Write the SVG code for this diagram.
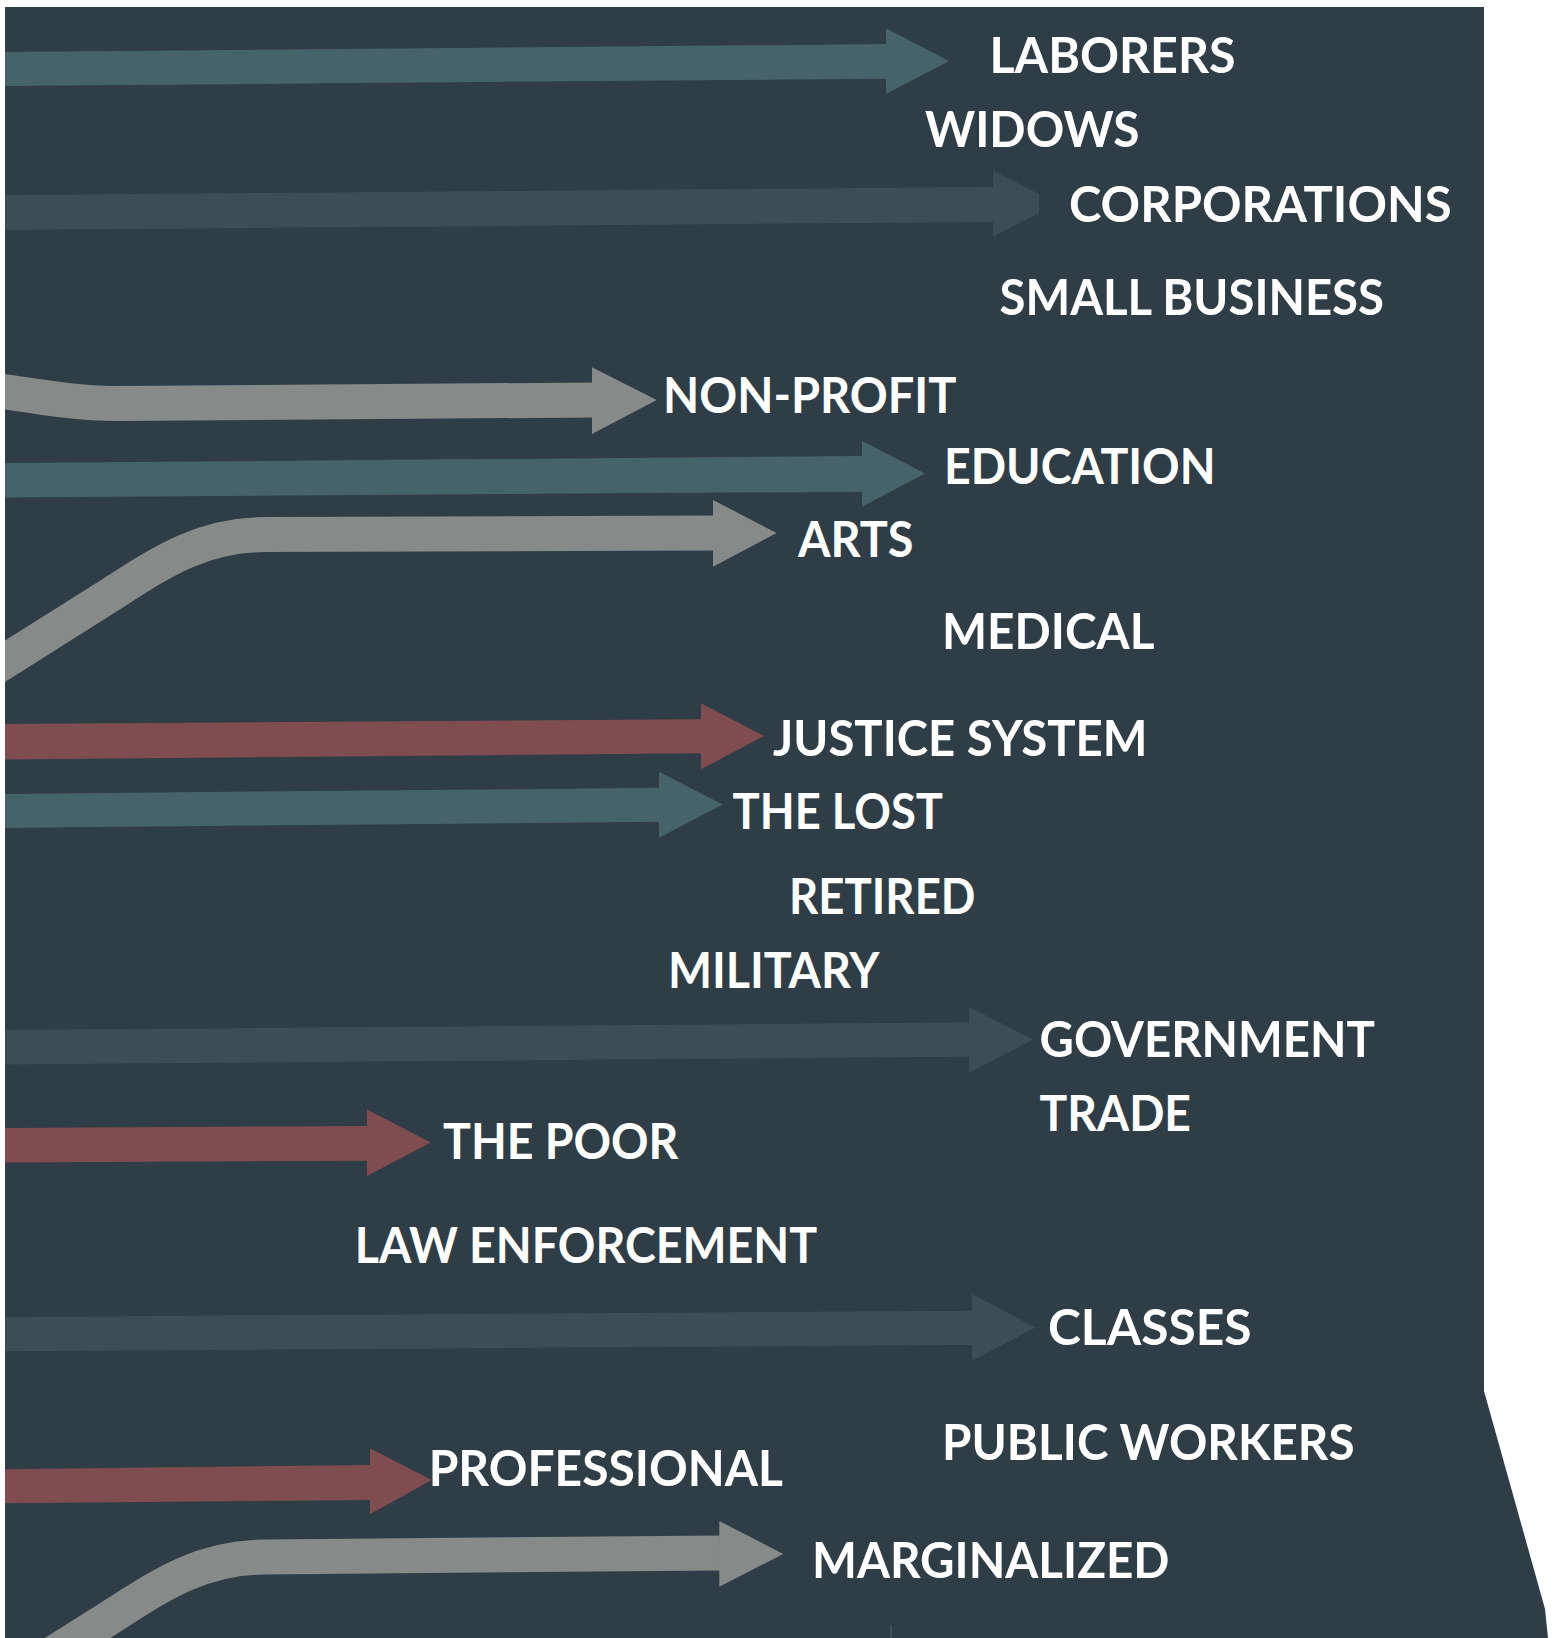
<svg xmlns="http://www.w3.org/2000/svg" width="1557" height="1638" viewBox="0 0 1557 1638">
<style>
.lbl{font-family:Lato,"Open Sans","Liberation Sans",sans-serif;font-weight:700;font-size:49px;fill:#ffffff}
.teal{fill:#47636a}
.slate{fill:#3c4d56}
.gray{fill:#868a88}
.red{fill:#7f4c4f}
.cgray{fill:none;stroke:#868a88;stroke-width:35}
</style>
<defs>
<clipPath id="bgclip"><path d="M5,7 H1484 V1391 L1545,1609 L1548,1638 H5 Z"/></clipPath>
</defs>
<rect x="0" y="0" width="1557" height="1638" fill="#ffffff"/>
<path id="background" d="M5,7 H1484 V1391 L1545,1609 L1548,1638 H5 Z" fill="#2e3d46"/>
<g id="connectors" clip-path="url(#bgclip)">
  <g id="arrow-laborers" class="teal">
    <polygon points="0,52 887,44 887,78.7 0,86"/>
    <polygon points="886,28.3 949,61 886,94"/>
  </g>
  <g id="arrow-corporations" class="slate">
    <polygon points="0,195 994,187 994,222 0,230"/>
    <polygon points="993,170.7 1039,194 1039,213 993,236.7"/>
  </g>
  <g id="arrow-nonprofit">
    <path class="cgray" d="M-10,389.5 C40,397 80,404 120,403.5 L593,400"/>
    <polygon class="gray" points="592,367.3 656.7,400 592,434"/>
  </g>
  <g id="arrow-education" class="teal">
    <polygon points="0,463 863,456 863,491.7 0,497.5"/>
    <polygon points="862,440.7 925,473.5 862,506.7"/>
  </g>
  <g id="arrow-arts">
    <path class="cgray" d="M-20,677 L110,595 C160,563 200,535 265,534.5 L714,533"/>
    <polygon class="gray" points="713,500 776.7,533 713,566.7"/>
  </g>
  <g id="arrow-justice" class="red">
    <polygon points="0,724 702,719.3 702,753.3 0,759.5"/>
    <polygon points="701,703.3 764,736 701,769.3"/>
  </g>
  <g id="arrow-lost" class="teal">
    <polygon points="0,794 660,787.7 660,821.7 0,828"/>
    <polygon points="659,771.7 722.7,804.5 659,837.7"/>
  </g>
  <g id="arrow-government" class="slate">
    <polygon points="0,1030 970,1022.3 970,1056.7 0,1064.5"/>
    <polygon points="969,1006.7 1033.3,1039.5 969,1072.7"/>
  </g>
  <g id="arrow-poor" class="red">
    <polygon points="0,1128 368,1126 368,1160.7 0,1162.5"/>
    <polygon points="367,1109.5 430.7,1142.5 367,1176"/>
  </g>
  <g id="arrow-classes" class="slate">
    <polygon points="0,1317 973,1310.7 973,1345 0,1351.3"/>
    <polygon points="972,1294 1035.7,1327.5 972,1360.7"/>
  </g>
  <g id="arrow-professional" class="red">
    <polygon points="0,1469.3 371,1465 371,1500 0,1503.3"/>
    <polygon points="370,1448.3 431.7,1480 370,1514.3"/>
  </g>
  <g id="arrow-marginalized">
    <path class="cgray" d="M-20,1699.5 L110,1617.5 C160,1585.5 200,1557.5 265,1557 L720,1553"/>
    <polygon class="gray" points="719.3,1521 783.3,1554 719.3,1586.7"/>
  </g>
  <line x1="891" y1="1625" x2="891" y2="1638" stroke="#56656c" stroke-width="1"/>
</g>
<g id="node-laborers"><text class="lbl" x="989.5" y="72.7" textLength="246" lengthAdjust="spacingAndGlyphs">LABORERS</text></g>
<g id="node-widows"><text class="lbl" x="925" y="146.8" textLength="214.5" lengthAdjust="spacingAndGlyphs">WIDOWS</text></g>
<g id="node-corporations"><text class="lbl" x="1069" y="222" textLength="382.5" lengthAdjust="spacingAndGlyphs">CORPORATIONS</text></g>
<g id="node-small-business"><text class="lbl" x="999.5" y="315" textLength="384.5" lengthAdjust="spacingAndGlyphs">SMALL BUSINESS</text></g>
<g id="node-non-profit"><text class="lbl" x="663" y="412.7" textLength="293.5" lengthAdjust="spacingAndGlyphs">NON-PROFIT</text></g>
<g id="node-education"><text class="lbl" x="944" y="484" textLength="271.5" lengthAdjust="spacingAndGlyphs">EDUCATION</text></g>
<g id="node-arts"><text class="lbl" x="798" y="556.7" textLength="115.5" lengthAdjust="spacingAndGlyphs">ARTS</text></g>
<g id="node-medical"><text class="lbl" x="942" y="649" textLength="212.5" lengthAdjust="spacingAndGlyphs">MEDICAL</text></g>
<g id="node-justice-system"><text class="lbl" x="773" y="755.5" textLength="374.5" lengthAdjust="spacingAndGlyphs">JUSTICE SYSTEM</text></g>
<g id="node-the-lost"><text class="lbl" x="732.5" y="829.3" textLength="210.5" lengthAdjust="spacingAndGlyphs">THE LOST</text></g>
<g id="node-retired"><text class="lbl" x="789" y="914.3" textLength="186.5" lengthAdjust="spacingAndGlyphs">RETIRED</text></g>
<g id="node-military"><text class="lbl" x="668" y="987.5" textLength="211.5" lengthAdjust="spacingAndGlyphs">MILITARY</text></g>
<g id="node-government"><text class="lbl" x="1039.5" y="1056.5" textLength="335.5" lengthAdjust="spacingAndGlyphs">GOVERNMENT</text></g>
<g id="node-trade"><text class="lbl" x="1039.5" y="1130.7" textLength="151.5" lengthAdjust="spacingAndGlyphs">TRADE</text></g>
<g id="node-the-poor"><text class="lbl" x="443" y="1159.3" textLength="235.5" lengthAdjust="spacingAndGlyphs">THE POOR</text></g>
<g id="node-law-enforcement"><text class="lbl" x="354.7" y="1262.7" textLength="462.5" lengthAdjust="spacingAndGlyphs">LAW ENFORCEMENT</text></g>
<g id="node-classes"><text class="lbl" x="1048" y="1345" textLength="203.5" lengthAdjust="spacingAndGlyphs">CLASSES</text></g>
<g id="node-public-workers"><text class="lbl" x="942" y="1460" textLength="412.5" lengthAdjust="spacingAndGlyphs">PUBLIC WORKERS</text></g>
<g id="node-professional"><text class="lbl" x="428.7" y="1486" textLength="354.2" lengthAdjust="spacingAndGlyphs">PROFESSIONAL</text></g>
<g id="node-marginalized"><text class="lbl" x="812" y="1578" textLength="357.5" lengthAdjust="spacingAndGlyphs">MARGINALIZED</text></g>
</svg>
